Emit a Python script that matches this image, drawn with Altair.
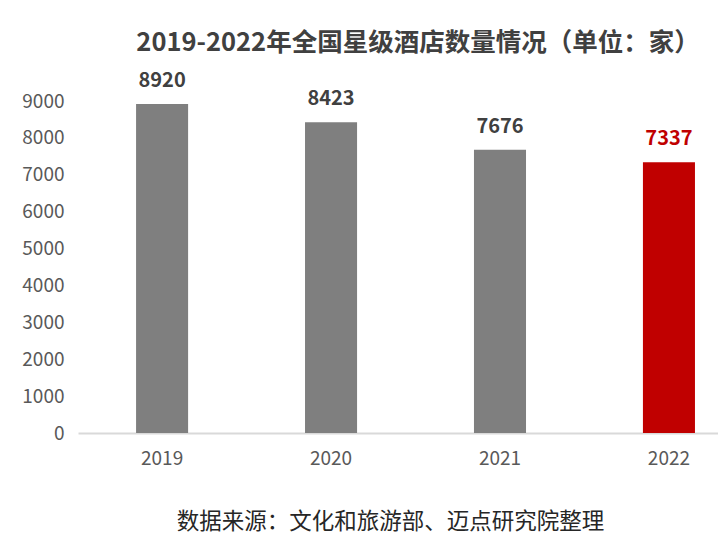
import altair as alt
import pandas as pd

years = ["2019", "2020", "2021", "2022"]
counts = [8920, 8423, 7676, 7337]
highlight = [False, False, False, True]

df = pd.DataFrame({"year": years, "count": counts, "hl": highlight})

FONT = "Noto Sans CJK SC"

x_enc = alt.X(
    "year:N",
    sort=years,
    scale=alt.Scale(paddingInner=0.692, paddingOuter=0.24, align=0.716),
    axis=alt.Axis(
        title="数据来源：文化和旅游部、迈点研究院整理",
        titleFont=FONT, titleFontSize=22.5, titleFontWeight="normal", titleColor="#262626",
        titleX=312, titleY=88, titleBaseline="middle",
        labelAngle=0, labelFont=FONT, labelFontSize=19, labelColor="#595959", labelPadding=16,
        ticks=False, domainColor="#d9d9d9", domainWidth=2,
    ),
)
y_enc = alt.Y(
    "count:Q",
    scale=alt.Scale(domain=[0, 9000], nice=False),
    axis=alt.Axis(
        title=None, values=list(range(0, 9001, 1000)), format="d", labelOverlap=False,
        tickCount=10, grid=False, domain=False, ticks=False,
        labelFont=FONT, labelFontSize=19, labelColor="#595959", labelPadding=14,
    ),
)

color_enc = alt.Color(
    "hl:N", scale=alt.Scale(domain=[False, True], range=["#7f7f7f", "#c00000"]), legend=None
)

bars = alt.Chart(df).mark_bar().encode(x=x_enc, y=y_enc, color=color_enc)

labels = alt.Chart(df).mark_text(
    baseline="bottom", dy=-13, font=FONT, fontSize=20, fontWeight="bold"
).encode(
    x=x_enc,
    y=y_enc,
    text=alt.Text("count:Q", format="d"),
    color=alt.Color("hl:N", scale=alt.Scale(domain=[False, True], range=["#404040", "#c00000"]), legend=None),
)

chart = (
    alt.layer(bars, labels)
    .resolve_scale(color="independent")
    .properties(
        width=640,
        height=332,
        title=alt.TitleParams(
            "2019-2022年全国星级酒店数量情况（单位：家）",
            font=FONT, fontSize=25.5, fontWeight="bold", color="#404040",
            anchor="middle", frame="group", dx=20, offset=14,
        ),
        autosize=alt.AutoSizeParams(type="none"),
        padding={"left": 70, "top": 93, "right": 0, "bottom": 100},
    )
    .configure_view(stroke=None)
)

chart.save("out.html", embed_options={"renderer": "svg", "actions": False})
